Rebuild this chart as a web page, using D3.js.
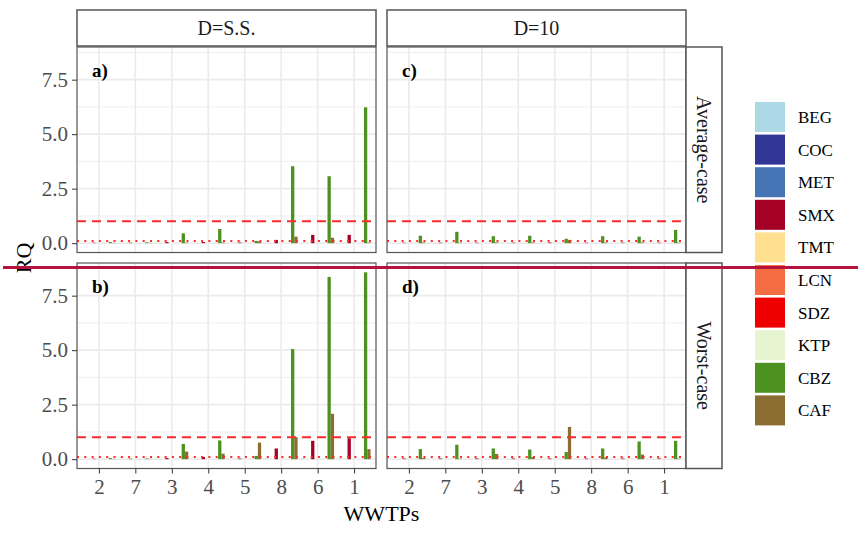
<!DOCTYPE html>
<html>
<head>
<meta charset="utf-8">
<script src="https://cdn.jsdelivr.net/npm/d3@7"></script>
<style>
  body { margin: 0; background: #fff; }
  svg { display: block; font-family: "Liberation Serif", "DejaVu Serif", serif; }
</style>
</head>
<body>
<script>
// categories
var wwtps = ["2", "7", "3", "4", "5", "8", "6", "1"];
var compounds = ["BEG", "COC", "MET", "SMX", "TMT", "LCN", "SDZ", "KTP", "CBZ", "CAF"];
var colors = ["#add8e6", "#313695", "#4575b4", "#a50026", "#fee090",
  "#f46d43", "#ee0000", "#e6f5d0", "#4d9221", "#8c6d31"];

var colLabels = ["D=S.S.", "D=10"];
var rowLabels = ["Average-case", "Worst-case"];
var panelTags = [["a)", "c)"], ["b)", "d)"]];
var yTicks = [0, 2.5, 5, 7.5];

// RQ values per WWTP (order of wwtps), compounds not listed are ~0
// average-case, D=S.S.
var avgSS_SMX = [0.02, 0.02, 0.05, 0.05, 0.03, 0.15, 0.38, 0.38];
var avgSS_CBZ = [0.05, 0.04, 0.45, 0.65, 0.10, 3.53, 3.07, 6.23];
var avgSS_CAF = [0.01, 0.01, 0.02, 0.03, 0.08, 0.30, 0.25, 0.03];
// average-case, D=10
var avg10_SMX = [0.02, 0.02, 0.02, 0.02, 0.03, 0.02, 0.02, 0.02];
var avg10_CBZ = [0.34, 0.52, 0.32, 0.34, 0.20, 0.32, 0.30, 0.61];
var avg10_CAF = [0.03, 0.02, 0.03, 0.03, 0.15, 0.03, 0.03, 0.02];
// worst-case, D=S.S.
var worstSS_BEG = [0, 0, 0, 0, 0, 0.02, 0.03, 0.02];
var worstSS_SMX = [0.02, 0.02, 0.05, 0.10, 0.03, 0.49, 0.84, 0.96];
var worstSS_CBZ = [0.05, 0.03, 0.70, 0.86, 0.15, 5.05, 8.36, 8.57];
var worstSS_CAF = [0.01, 0.01, 0.35, 0.25, 0.76, 1.01, 2.08, 0.46];
// worst-case, D=10
var worst10_SMX = [0.03, 0.03, 0.03, 0.03, 0.03, 0.03, 0.03, 0.03];
var worst10_CBZ = [0.46, 0.66, 0.49, 0.44, 0.33, 0.49, 0.81, 0.84];
var worst10_CAF = [0.05, 0.02, 0.24, 0.10, 1.48, 0.08, 0.21, 0.02];

var threshold = 1;
var lowThreshold = 0.1;

// build a long table: one row per panel/wwtp/compound
function panelRows(r, c, series) {
  var rows = [];
  for (var w = 0; w < wwtps.length; w++) {
    for (var k = 0; k < compounds.length; k++) {
      var arr = series[compounds[k]];
      rows.push({ row: r, col: c, wwtp: wwtps[w], compound: compounds[k], value: arr ? arr[w] : 0 });
    }
  }
  return rows;
}

var data = [].concat(
  panelRows(0, 0, { SMX: avgSS_SMX, CBZ: avgSS_CBZ, CAF: avgSS_CAF }),
  panelRows(0, 1, { SMX: avg10_SMX, CBZ: avg10_CBZ, CAF: avg10_CAF }),
  panelRows(1, 0, { BEG: worstSS_BEG, SMX: worstSS_SMX, CBZ: worstSS_CBZ, CAF: worstSS_CAF }),
  panelRows(1, 1, { SMX: worst10_SMX, CBZ: worst10_CBZ, CAF: worst10_CAF })
);

// layout
var width = 858, height = 534;
var panelW = 299, panelH = 205.5;
var colX = [77, 387];
var rowY = [47, 263];
var stripH = 36;

var svg = d3.select('body').append('svg')
  .attr('width', width)
  .attr('height', height);

var maxV = d3.max(data, function(d) { return d.value; });
var pad = maxV * 0.05;

var color = d3.scaleOrdinal().domain(compounds).range(colors);

for (var r = 0; r < 2; r++) {
  for (var c = 0; c < 2; c++) {
    var x0 = colX[c], y0 = rowY[r];
    var x = d3.scalePoint().domain(wwtps).range([x0, x0 + panelW]).padding(0.6);
    var y = d3.scaleLinear().domain([-pad, maxV + pad]).range([y0 + panelH, y0]);
    var step = x.step();
    var g = svg.append('g');

    // minor grid
    var minors = [1.25, 3.75, 6.25, 8.75];
    g.selectAll('.minor').data(minors).enter().append('line')
      .attr('x1', x0).attr('x2', x0 + panelW)
      .attr('y1', function(d) { return y(d); })
      .attr('y2', function(d) { return y(d); })
      .attr('stroke', '#ebebeb').attr('stroke-width', 0.8);
    // major grid
    g.selectAll('.hmaj').data(yTicks).enter().append('line')
      .attr('x1', x0).attr('x2', x0 + panelW)
      .attr('y1', function(d) { return y(d); })
      .attr('y2', function(d) { return y(d); })
      .attr('stroke', '#ebebeb').attr('stroke-width', 1.6);
    g.selectAll('.vmaj').data(wwtps).enter().append('line')
      .attr('y1', y0).attr('y2', y0 + panelH)
      .attr('x1', function(d) { return x(d); })
      .attr('x2', function(d) { return x(d); })
      .attr('stroke', '#ebebeb').attr('stroke-width', 1.6);

    // dodged bars
    var pdata = data.filter(function(d) { return d.row === r && d.col === c; });
    g.selectAll('.bar').data(pdata).enter().append('rect')
      .attr('x', function(d) {
        var i = compounds.indexOf(d.compound);
        return x(d.wwtp) + (-0.45 + 0.09 * i) * step;
      })
      .attr('width', 0.09 * step)
      .attr('y', function(d) { return y(Math.max(0, d.value)); })
      .attr('height', function(d) { return Math.abs(y(0) - y(d.value)); })
      .attr('fill', function(d) { return color(d.compound); });

    // reference lines
    g.append('line')
      .attr('x1', x0).attr('x2', x0 + panelW)
      .attr('y1', y(threshold)).attr('y2', y(threshold))
      .attr('stroke', '#ff2a2a').attr('stroke-width', 2)
      .attr('stroke-dasharray', '9,6');
    g.append('line')
      .attr('x1', x0).attr('x2', x0 + panelW)
      .attr('y1', y(lowThreshold)).attr('y2', y(lowThreshold))
      .attr('stroke', '#ff2a2a').attr('stroke-width', 2)
      .attr('stroke-dasharray', '2,5.3');

    // panel border
    g.append('rect')
      .attr('x', x0).attr('y', y0)
      .attr('width', panelW).attr('height', panelH)
      .attr('fill', 'none').attr('stroke', '#555').attr('stroke-width', 1.2);

    // panel tag
    g.append('text')
      .attr('x', x0 + 15).attr('y', y0 + 30)
      .attr('font-size', 19).attr('font-weight', 'bold')
      .attr('fill', '#000')
      .text(panelTags[r][c]);

    // y axis on left column
    if (c === 0) {
      var yAxis = d3.axisLeft(y).tickValues(yTicks).tickSize(5).tickPadding(4)
        .tickFormat(d3.format('.1f'));
      var ya = svg.append('g').attr('transform', 'translate(' + x0 + ',0)').call(yAxis);
      ya.select('.domain').remove();
      ya.selectAll('line').attr('stroke', '#333');
      ya.selectAll('text').attr('font-size', 21).attr('fill', '#4d4d4d')
        .attr('font-family', '"Liberation Serif", serif');
    }
    // x axis on bottom row
    if (r === 1) {
      var xAxis = d3.axisBottom(x).tickSize(5).tickPadding(6);
      var xa = svg.append('g').attr('transform', 'translate(0,' + (y0 + panelH) + ')').call(xAxis);
      xa.select('.domain').remove();
      xa.selectAll('line').attr('stroke', '#333');
      xa.selectAll('text').attr('font-size', 21).attr('fill', '#4d4d4d')
        .attr('font-family', '"Liberation Serif", serif');
    }
  }
}

// column strips
for (var cc = 0; cc < 2; cc++) {
  svg.append('rect')
    .attr('x', colX[cc]).attr('y', 10)
    .attr('width', panelW).attr('height', stripH)
    .attr('fill', '#fff').attr('stroke', '#555').attr('stroke-width', 1.5);
  svg.append('text')
    .attr('x', colX[cc] + panelW / 2).attr('y', 10 + stripH / 2)
    .attr('dy', '0.35em').attr('text-anchor', 'middle')
    .attr('font-size', 20).attr('fill', '#1a1a1a')
    .text(colLabels[cc]);
}
// row strips
for (var rr = 0; rr < 2; rr++) {
  var sx = colX[1] + panelW;
  svg.append('rect')
    .attr('x', sx).attr('y', rowY[rr])
    .attr('width', stripH).attr('height', panelH)
    .attr('fill', '#fff').attr('stroke', '#555').attr('stroke-width', 1.5);
  svg.append('text')
    .attr('transform', 'translate(' + (sx + stripH / 2) + ',' + (rowY[rr] + panelH / 2) + ') rotate(90)')
    .attr('dy', '0.35em').attr('text-anchor', 'middle')
    .attr('font-size', 20).attr('fill', '#1a1a1a')
    .text(rowLabels[rr]);
}

// axis titles
svg.append('text')
  .attr('x', (colX[0] + colX[1] + panelW) / 2).attr('y', 521)
  .attr('text-anchor', 'middle').attr('font-size', 22)
  .text('WWTPs');
svg.append('text')
  .attr('transform', 'translate(31,258) rotate(-90)')
  .attr('text-anchor', 'middle').attr('font-size', 22)
  .text('RQ');

// legend
var legend = svg.append('g').attr('transform', 'translate(755,102)');
var keys = legend.selectAll('.key').data(compounds).enter().append('g')
  .attr('transform', function(d, i) { return 'translate(0,' + (i * 32.6) + ')'; });
keys.append('rect')
  .attr('width', 30).attr('height', 30)
  .attr('fill', function(d) { return color(d); });
keys.append('text')
  .attr('x', 43).attr('y', 15).attr('dy', '0.35em')
  .attr('font-size', 17).attr('fill', '#000')
  .text(function(d) { return d; });

// horizontal rule across the figure
svg.append('line')
  .attr('x1', 3).attr('x2', width)
  .attr('y1', 267.5).attr('y2', 267.5)
  .attr('stroke', '#b5123d').attr('stroke-width', 3);
</script>
</body>
</html>
